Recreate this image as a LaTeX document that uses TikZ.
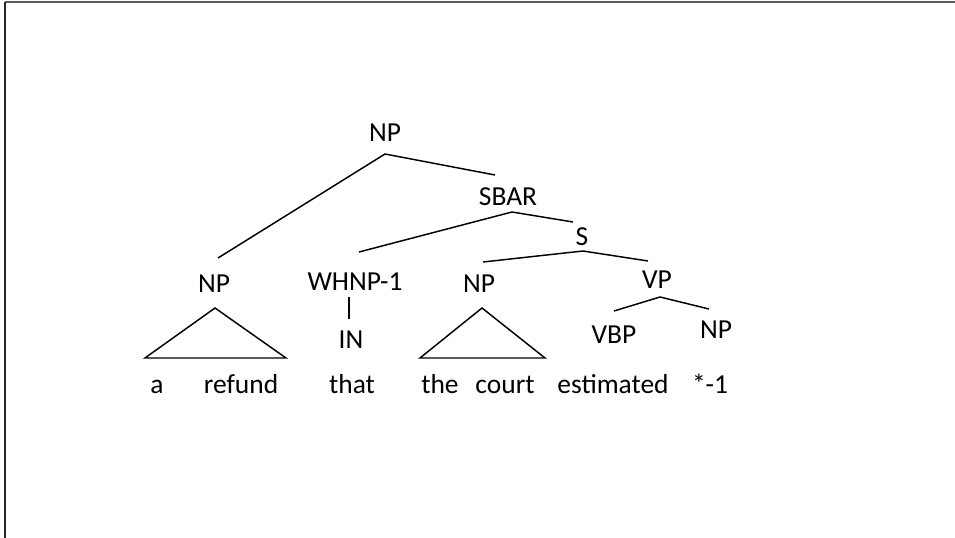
\documentclass[tikz,border=0pt]{standalone}
\usepackage{fontspec}
\setmainfont{Carlito}
\begin{document}
\begin{tikzpicture}[x=0.75pt,y=-0.75pt,
  lbl/.style={font=\fontsize{20.6}{24}\selectfont, inner sep=0pt, anchor=base},
  edge/.style={line width=1.1pt, black},
  frame/.style={line width=1.5pt}]
\useasboundingbox (0,0) rectangle (955,538);
% frame
\coordinate (fc) at (4.5,2.5);
\coordinate (fr) at (955,2.5);
\coordinate (fb) at (4.5,538);
\draw[frame, gray!70!black] (fc) -- (fr);
\draw[frame, black!85] (fc) -- (fb);
% labels
\node[lbl] (np0)  at (385,142) {NP};
\node[lbl] (sbar) at (508,205) {SBAR};
\node[lbl] (s)    at (582,245) {S};
\node[lbl] (npl)  at (214,292) {NP};
\node[lbl] (whnp) at (355,290) {WHNP-1};
\node[lbl] (npm)  at (479,292) {NP};
\node[lbl] (vp)   at (657,288) {VP};
\node[lbl] (vbp)  at (614,343) {VBP};
\node[lbl] (npr)  at (716,338) {NP};
\node[lbl] (in)   at (351,348) {IN};
% words
\node[lbl] (w1) at (157,393) {a};
\node[lbl] (w2) at (241,393) {refund};
\node[lbl] (w3) at (352,393) {that};
\node[lbl] (w4) at (440,393) {the};
\node[lbl] (w5) at (505,393) {court};
\node[lbl] (w6) at (613,393) {estimated};
\node[lbl] (w7) at (710,393) {*-1};
% edge end points
\coordinate (np0b)  at (385,154);
\coordinate (nplt)  at (218,258);
\coordinate (sbart) at (495,175);
\coordinate (sbarb) at (512,212);
\coordinate (whnpt) at (359,252);
\coordinate (st)    at (573,222);
\coordinate (sb)    at (583,251);
\coordinate (npmt)  at (483,262);
\coordinate (vpt)   at (648,261);
\coordinate (vpb)   at (660,297);
\coordinate (vbpt)  at (614,311);
\coordinate (nprt)  at (709,309);
\coordinate (whnpb) at (349,297);
\coordinate (int)   at (349,319);
% edges
\draw[edge] (nplt) -- (np0b) -- (sbart);
\draw[edge] (whnpt) -- (sbarb) -- (st);
\draw[edge] (npmt) -- (sb) -- (vpt);
\draw[edge] (vbpt) -- (vpb) -- (nprt);
\draw[edge] (whnpb) -- (int);
% triangles
\coordinate (ta1) at (215,308);
\coordinate (tl1) at (145,358);
\coordinate (tr1) at (286,358);
\coordinate (ta2) at (482,308);
\coordinate (tl2) at (420,358);
\coordinate (tr2) at (545,358);
\draw[edge, line join=miter] (ta1) -- (tl1) -- (tr1) -- cycle;
\draw[edge, line join=miter] (ta2) -- (tl2) -- (tr2) -- cycle;
\end{tikzpicture}
\end{document}
